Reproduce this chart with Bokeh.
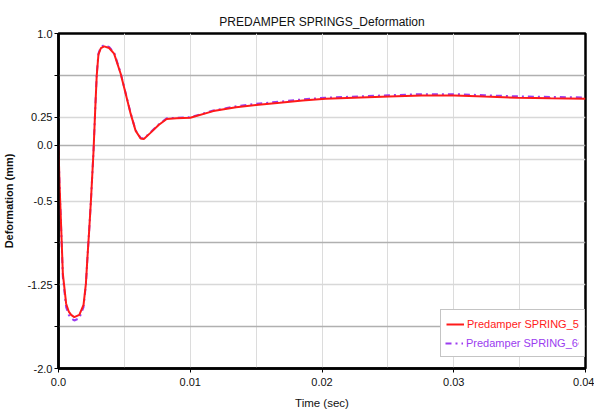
from bokeh.plotting import figure
from bokeh.models import FixedTicker, Grid, Legend, LegendItem
from bokeh.embed import file_html
from bokeh.resources import INLINE

title_text = "PREDAMPER SPRINGS_Deformation"
x_label = "Time (sec)"
y_label = "Deformation (mm)"

time_s = [0.0, 0.000075, 0.00021, 0.00033, 0.00058, 0.00078, 0.00096, 0.0012, 0.00158,
          0.0019, 0.00208, 0.0022, 0.00233, 0.00246, 0.00266, 0.00278, 0.0029, 0.00303,
          0.00322, 0.00347, 0.00384, 0.00422, 0.00472, 0.0051, 0.00548, 0.00585, 0.00623,
          0.00648, 0.00698, 0.0076, 0.00821, 0.00896, 0.01, 0.01175, 0.01348, 0.015,
          0.0168, 0.01853, 0.02026, 0.02508, 0.02757, 0.03006, 0.03232, 0.03488, 0.03736,
          0.04]
spring_5 = [0.0, -0.34, -0.76, -1.15, -1.42, -1.49, -1.52, -1.54, -1.52,
            -1.43, -1.24, -1.0, -0.76, -0.50, -0.05, 0.30, 0.62, 0.81,
            0.87, 0.885, 0.87, 0.82, 0.64, 0.46, 0.28, 0.13, 0.06,
            0.055, 0.11, 0.18, 0.235, 0.24, 0.245, 0.305, 0.34, 0.36,
            0.38, 0.40, 0.415, 0.435, 0.445, 0.445, 0.435, 0.425, 0.42,
            0.415]
spring_6 = [0.0, -0.35, -0.78, -1.18, -1.45, -1.52, -1.55, -1.57, -1.55,
            -1.45, -1.25, -1.0, -0.76, -0.50, -0.05, 0.30, 0.63, 0.82,
            0.88, 0.895, 0.88, 0.83, 0.645, 0.465, 0.285, 0.135, 0.065,
            0.06, 0.115, 0.185, 0.24, 0.245, 0.25, 0.31, 0.348, 0.37,
            0.39, 0.41, 0.425, 0.447, 0.457, 0.457, 0.447, 0.437, 0.432,
            0.427]

series_names = ["Predamper SPRING_5", "Predamper SPRING_6"]
series_colors = ["#ff1a1a", "#9b3cf0"]

y_major = [1.0, 0.25, 0.0, -0.5, -1.25, -2.0]
y_minor = [0.625, -0.875, -1.625]
y_grid_light = [1.0, 0.25, -0.125, -0.5, -1.25, -2.0]
y_grid_dark = [0.625, 0.0, -0.875, -1.625]
x_major = [0.0, 0.01, 0.02, 0.03, 0.04]
x_grid = [0.0, 0.005, 0.01, 0.015, 0.02, 0.025, 0.03, 0.035, 0.04]

FONT = "Liberation Sans"

p = figure(width=594, height=414, output_backend="svg", toolbar_location=None,
           x_range=(0.0, 0.04), y_range=(-2.0, 1.0),
           min_border_left=54, min_border_right=9, min_border_top=33, min_border_bottom=46)
p.background_fill_color = "white"
p.border_fill_color = "white"
p.outline_line_color = "black"
p.outline_line_width = 2.5

p.title.text = title_text
p.title.align = "center"
p.title.text_font = FONT
p.title.text_font_size = "12px"
p.title.text_font_style = "normal"
p.title.text_color = "#111111"
p.title.offset = 0
p.title.standoff = 9

# grids
p.xgrid.ticker = FixedTicker(ticks=x_grid)
p.xgrid.grid_line_color = "#dcdcdc"
p.xgrid.grid_line_width = 1
p.ygrid.ticker = FixedTicker(ticks=y_grid_light)
p.ygrid.grid_line_color = "#d8d8d8"
p.ygrid.grid_line_width = 1.5
dark_grid = Grid(dimension=1, ticker=FixedTicker(ticks=y_grid_dark),
                 grid_line_color="#b0b0b0", grid_line_width=1.5)
p.add_layout(dark_grid)

# axes
p.yaxis.ticker = FixedTicker(ticks=y_major, minor_ticks=y_minor)
p.xaxis.ticker = FixedTicker(ticks=x_major)
p.yaxis.major_label_overrides = {1.0: "1.0", 0.25: "0.25", 0.0: "0.0", -0.5: "-0.5",
                                 -1.25: "-1.25", -2.0: "-2.0"}
p.xaxis.major_label_overrides = {0.0: "0.0", 0.01: "0.01", 0.02: "0.02", 0.03: "0.03",
                                 0.04: "0.04"}
for ax in (p.xaxis, p.yaxis):
    ax.axis_line_color = "black"
    ax.axis_line_width = 2.5
    ax.major_tick_line_color = "black"
    ax.minor_tick_line_color = "black"
    ax.major_tick_in = 0
    ax.major_tick_out = 4
    ax.minor_tick_in = 0
    ax.major_label_text_font = FONT
    ax.major_label_text_font_size = "11px"
    ax.major_label_text_color = "#111111"
    ax.axis_label_text_font = FONT
    ax.axis_label_text_color = "#111111"
p.yaxis.minor_tick_out = 4
p.xaxis.minor_tick_out = 0
p.yaxis.major_label_standoff = 2
p.xaxis.major_label_standoff = 5
p.yaxis.axis_label = y_label
p.yaxis.axis_label_text_font_style = "bold"
p.yaxis.axis_label_text_font_size = "11px"
p.yaxis.axis_label_standoff = 9
p.xaxis.axis_label = x_label
p.xaxis.axis_label_text_font_style = "normal"
p.xaxis.axis_label_text_font_size = "11.5px"
p.xaxis.axis_label_standoff = 8

r6 = p.line(time_s, spring_6, line_color=series_colors[1], line_width=2, line_dash="dashdot")
r5 = p.line(time_s, spring_5, line_color=series_colors[0], line_width=2)

leg = Legend(items=[LegendItem(label=series_names[0], renderers=[r5]),
                    LegendItem(label=series_names[1], renderers=[r6])],
             location=(382, 11), padding=5, spacing=0, label_height=18, glyph_height=18,
             glyph_width=18, label_standoff=3, border_line_color="#8a8a8a", border_line_width=1,
             background_fill_color="white", background_fill_alpha=1.0,
             label_text_font=FONT, label_text_font_size="11px",
             label_text_color=series_colors[0])
p.add_layout(leg)
leg2 = Legend(items=[LegendItem(label=series_names[1], renderers=[r6])],
              location=(387, 16), padding=0, spacing=0, label_height=18, glyph_height=18,
              glyph_width=18, label_standoff=3, border_line_color=None,
              background_fill_color="white", background_fill_alpha=1.0,
              label_text_font=FONT, label_text_font_size="11px",
              label_text_color=series_colors[1])
p.add_layout(leg2)

open("out.html", "w").write(file_html(p, INLINE))
